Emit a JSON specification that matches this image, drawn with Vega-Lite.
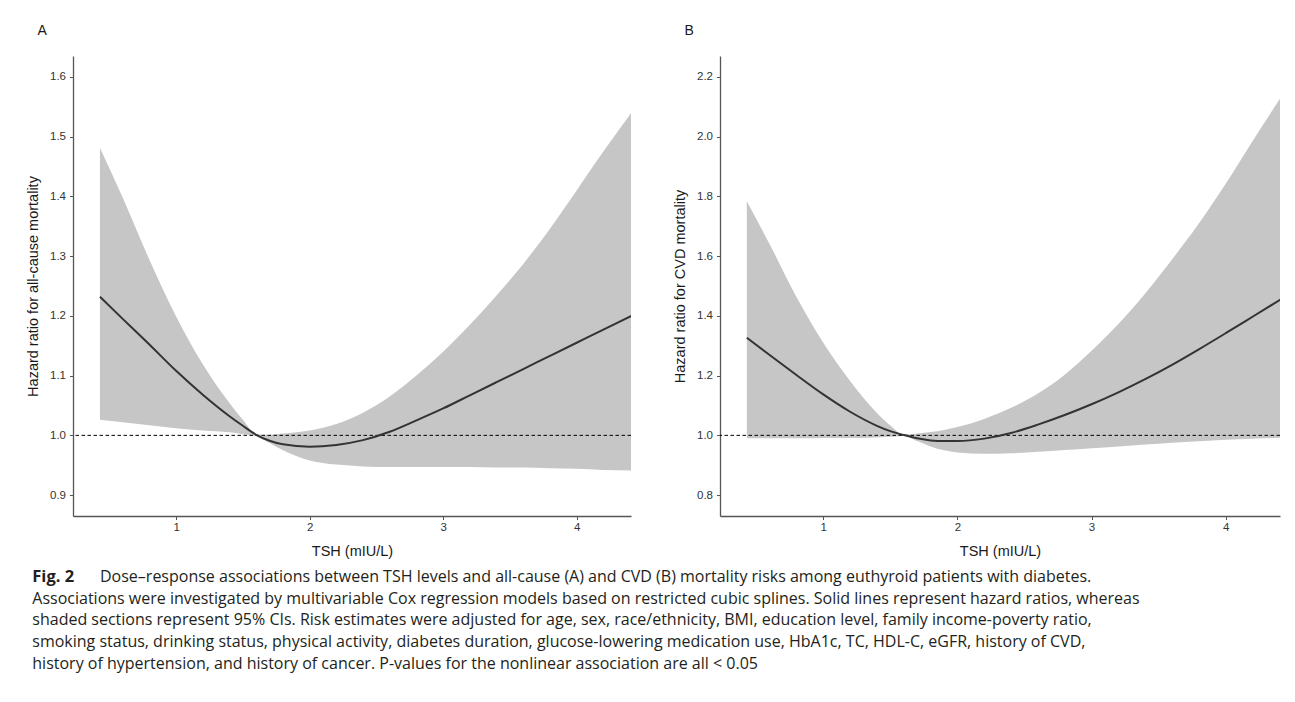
{
  "$schema": "https://vega.github.io/schema/vega-lite/v6.json",
  "padding": {"left": 25, "top": 24, "right": 0, "bottom": 0},
  "background": "white",
  "config": {
    "view": {"stroke": null},
    "axis": {"grid": false, "labelFont": "Liberation Sans", "titleFont": "Liberation Sans", "labelFontSize": 11.5, "titleFontSize": 14.5, "titleFontWeight": "normal", "labelColor": "#333333", "titleColor": "#1a1a1a", "domainColor": "#555555", "domainWidth": 1.3, "tickColor": "#555555", "tickSize": 3.5},
    "axisX": {"labelPadding": 2, "titlePadding": 11},
    "axisY": {"labelPadding": 4, "titlePadding": 9}
  },
  "datasets": {
    "a": [
      {"tsh": 0.43, "hr": 1.232, "lo": 1.026, "hi": 1.481},
      {"tsh": 0.6, "hr": 1.195, "lo": 1.022, "hi": 1.398},
      {"tsh": 0.8, "hr": 1.152, "lo": 1.017, "hi": 1.294},
      {"tsh": 1.0, "hr": 1.108, "lo": 1.012, "hi": 1.199},
      {"tsh": 1.2, "hr": 1.068, "lo": 1.008, "hi": 1.119},
      {"tsh": 1.4, "hr": 1.032, "lo": 1.005, "hi": 1.054},
      {"tsh": 1.5, "hr": 1.016, "lo": 1.002, "hi": 1.026},
      {"tsh": 1.6, "hr": 1.001, "lo": 0.999, "hi": 1.002},
      {"tsh": 1.7, "hr": 0.991, "lo": 0.987, "hi": 1.001},
      {"tsh": 1.8, "hr": 0.985, "lo": 0.975, "hi": 1.003},
      {"tsh": 2.0, "hr": 0.981, "lo": 0.958, "hi": 1.008},
      {"tsh": 2.2, "hr": 0.984, "lo": 0.951, "hi": 1.019},
      {"tsh": 2.4, "hr": 0.992, "lo": 0.948, "hi": 1.038},
      {"tsh": 2.6, "hr": 1.006, "lo": 0.947, "hi": 1.065},
      {"tsh": 2.8, "hr": 1.025, "lo": 0.947, "hi": 1.100},
      {"tsh": 3.0, "hr": 1.045, "lo": 0.947, "hi": 1.140},
      {"tsh": 3.2, "hr": 1.067, "lo": 0.947, "hi": 1.185},
      {"tsh": 3.4, "hr": 1.089, "lo": 0.946, "hi": 1.234},
      {"tsh": 3.6, "hr": 1.111, "lo": 0.946, "hi": 1.287},
      {"tsh": 3.8, "hr": 1.133, "lo": 0.945, "hi": 1.346},
      {"tsh": 4.0, "hr": 1.155, "lo": 0.944, "hi": 1.410},
      {"tsh": 4.2, "hr": 1.177, "lo": 0.942, "hi": 1.475},
      {"tsh": 4.41, "hr": 1.200, "lo": 0.941, "hi": 1.540}
    ],
    "b": [
      {"tsh": 0.43, "hr": 1.327, "lo": 0.990, "hi": 1.784},
      {"tsh": 0.6, "hr": 1.269, "lo": 0.990, "hi": 1.640},
      {"tsh": 0.8, "hr": 1.202, "lo": 0.990, "hi": 1.463},
      {"tsh": 1.0, "hr": 1.137, "lo": 0.991, "hi": 1.310},
      {"tsh": 1.2, "hr": 1.079, "lo": 0.991, "hi": 1.182},
      {"tsh": 1.4, "hr": 1.032, "lo": 0.993, "hi": 1.075},
      {"tsh": 1.5, "hr": 1.014, "lo": 0.995, "hi": 1.033},
      {"tsh": 1.6, "hr": 1.001, "lo": 0.999, "hi": 1.002},
      {"tsh": 1.7, "hr": 0.990, "lo": 0.981, "hi": 1.006},
      {"tsh": 1.8, "hr": 0.983, "lo": 0.963, "hi": 1.011},
      {"tsh": 1.9, "hr": 0.981, "lo": 0.950, "hi": 1.018},
      {"tsh": 2.0, "hr": 0.981, "lo": 0.943, "hi": 1.028},
      {"tsh": 2.2, "hr": 0.989, "lo": 0.938, "hi": 1.055},
      {"tsh": 2.4, "hr": 1.008, "lo": 0.940, "hi": 1.092},
      {"tsh": 2.6, "hr": 1.036, "lo": 0.945, "hi": 1.140},
      {"tsh": 2.8, "hr": 1.068, "lo": 0.951, "hi": 1.203},
      {"tsh": 3.0, "hr": 1.104, "lo": 0.957, "hi": 1.283},
      {"tsh": 3.2, "hr": 1.144, "lo": 0.963, "hi": 1.373},
      {"tsh": 3.4, "hr": 1.188, "lo": 0.969, "hi": 1.475},
      {"tsh": 3.6, "hr": 1.236, "lo": 0.975, "hi": 1.589},
      {"tsh": 3.8, "hr": 1.288, "lo": 0.980, "hi": 1.709},
      {"tsh": 4.0, "hr": 1.342, "lo": 0.985, "hi": 1.842},
      {"tsh": 4.2, "hr": 1.397, "lo": 0.989, "hi": 1.985},
      {"tsh": 4.41, "hr": 1.455, "lo": 0.992, "hi": 2.130}
    ],
    "caption": [
      {"line": 1, "part": "label", "text": "Fig. 2"},
      {"line": 1, "part": "first", "text": "Dose–response associations between TSH levels and all-cause (A) and CVD (B) mortality risks among euthyroid patients with diabetes."},
      {"line": 2, "part": "body", "text": "Associations were investigated by multivariable Cox regression models based on restricted cubic splines. Solid lines represent hazard ratios, whereas"},
      {"line": 3, "part": "body", "text": "shaded sections represent 95% CIs. Risk estimates were adjusted for age, sex, race/ethnicity, BMI, education level, family income-poverty ratio,"},
      {"line": 4, "part": "body", "text": "smoking status, drinking status, physical activity, diabetes duration, glucose-lowering medication use, HbA1c, TC, HDL-C, eGFR, history of CVD,"},
      {"line": 5, "part": "body", "text": "history of hypertension, and history of cancer. P-values for the nonlinear association are all < 0.05"}
    ]
  },
  "spacing": 8,
  "vconcat": [
    {
      "spacing": 40,
      "hconcat": [
        {
          "width": 558,
          "height": 460,
          "title": {"text": "A", "anchor": "start", "frame": "group", "dx": -35.5, "offset": 7, "baseline": "alphabetic", "fontSize": 14, "fontWeight": "normal", "font": "Liberation Sans", "color": "#1a1a1a"},
          "data": {"name": "a"},
          "layer": [
            {
              "mark": {"type": "area", "color": "#c6c6c6", "clip": true, "interpolate": "monotone"},
              "encoding": {
                "x": {"field": "tsh", "type": "quantitative", "scale": {"domain": [0.228, 4.407], "nice": false, "zero": false}, "axis": {"values": [1, 2, 3, 4], "format": "d", "title": "TSH (mIU/L)"}},
                "y": {"field": "lo", "type": "quantitative", "scale": {"domain": [0.865, 1.635], "nice": false, "zero": false}, "axis": {"values": [0.9, 1.0, 1.1, 1.2, 1.3, 1.4, 1.5, 1.6], "format": ".1f", "title": "Hazard ratio for all-cause mortality"}},
                "y2": {"field": "hi"}
              }
            },
            {
              "data": {"values": [{}]},
              "mark": {"type": "rule", "color": "#000000", "strokeWidth": 1, "strokeDash": [3.5, 2.5]},
              "encoding": {"y": {"datum": 1}}
            },
            {
              "mark": {"type": "line", "color": "#333333", "strokeWidth": 2, "clip": true, "interpolate": "monotone"},
              "encoding": {
                "x": {"field": "tsh", "type": "quantitative"},
                "y": {"field": "hr", "type": "quantitative"}
              }
            }
          ]
        },
        {
          "width": 560,
          "height": 460,
          "title": {"text": "B", "anchor": "start", "frame": "group", "dx": -35.5, "offset": 7, "baseline": "alphabetic", "fontSize": 14, "fontWeight": "normal", "font": "Liberation Sans", "color": "#1a1a1a"},
          "data": {"name": "b"},
          "layer": [
            {
              "mark": {"type": "area", "color": "#c6c6c6", "clip": true, "interpolate": "monotone"},
              "encoding": {
                "x": {"field": "tsh", "type": "quantitative", "scale": {"domain": [0.23, 4.405], "nice": false, "zero": false}, "axis": {"values": [1, 2, 3, 4], "format": "d", "title": "TSH (mIU/L)"}},
                "y": {"field": "lo", "type": "quantitative", "scale": {"domain": [0.73, 2.27], "nice": false, "zero": false}, "axis": {"values": [0.8, 1.0, 1.2, 1.4, 1.6, 1.8, 2.0, 2.2], "format": ".1f", "title": "Hazard ratio for CVD mortality"}},
                "y2": {"field": "hi"}
              }
            },
            {
              "data": {"values": [{}]},
              "mark": {"type": "rule", "color": "#000000", "strokeWidth": 1, "strokeDash": [3.5, 2.5]},
              "encoding": {"y": {"datum": 1}}
            },
            {
              "mark": {"type": "line", "color": "#333333", "strokeWidth": 2, "clip": true, "interpolate": "monotone"},
              "encoding": {
                "x": {"field": "tsh", "type": "quantitative"},
                "y": {"field": "hr", "type": "quantitative"}
              }
            }
          ]
        }
      ]
    },
    {
      "width": 1180,
      "height": 108.5,
      "data": {"name": "caption"},
      "encoding": {
        "y": {"field": "line", "type": "ordinal", "axis": null, "scale": {"type": "point", "domain": [1, 2, 3, 4, 5], "padding": 0.5}},
        "x": {"value": 0},
        "text": {"field": "text"}
      },
      "layer": [
        {
          "transform": [{"filter": "datum.part == 'label'"}],
          "mark": {"type": "text", "align": "left", "baseline": "middle", "font": "Open Sans", "fontSize": 16.5, "fontWeight": "bold", "dx": -40.7, "color": "#231f20"}
        },
        {
          "transform": [{"filter": "datum.part == 'first'"}],
          "mark": {"type": "text", "align": "left", "baseline": "middle", "font": "Open Sans", "fontSize": 16, "dx": 27, "color": "#231f20"}
        },
        {
          "transform": [{"filter": "datum.part == 'body'"}],
          "mark": {"type": "text", "align": "left", "baseline": "middle", "font": "Open Sans", "fontSize": 16, "dx": -40.7, "color": "#231f20"}
        }
      ]
    }
  ]
}
